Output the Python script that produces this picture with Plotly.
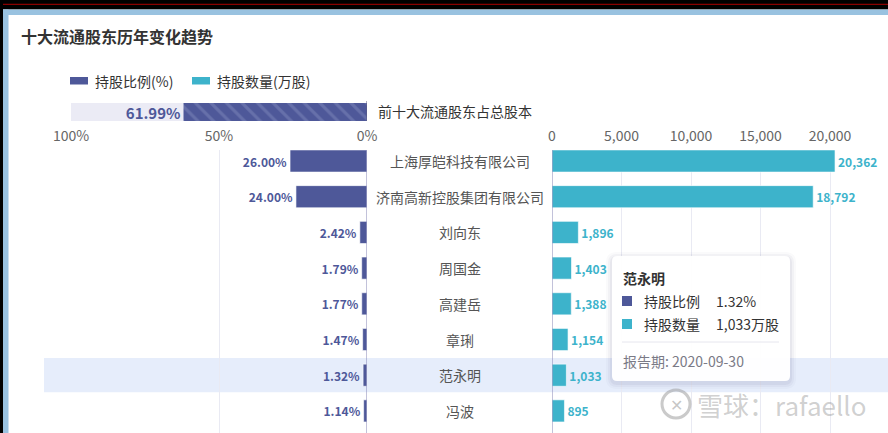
import plotly.graph_objects as go

# ---------------- data ----------------
names = ["上海厚皑科技有限公司", "济南高新控股集团有限公司", "刘向东", "周国金",
         "高建岳", "章琍", "范永明", "冯波"]
ratio = [26.00, 24.00, 2.42, 1.79, 1.77, 1.47, 1.32, 1.14]          # 持股比例 %
shares = [20362, 18792, 1896, 1403, 1388, 1154, 1033, 895]         # 持股数量 万股
top10_total = 61.99
left_ticks = [100, 50, 0]
left_ticktext = ["100%", "50%", "0%"]
right_ticks = [0, 5000, 10000, 15000, 20000]
right_ticktext = ["0", "5,000", "10,000", "15,000", "20,000"]
legend_names = ["持股比例(%)", "持股数量(万股)"]
title_text = "十大流通股东历年变化趋势"
summary_label = "前十大流通股东占总股本"
hover_index = 6
report_date = "2020-09-30"
watermark = "雪球：rafaello"

# ---------------- styling ----------------
W, H = 888, 433
FONT = "Noto Sans CJK SC, Noto Sans, sans-serif"
C_RATIO = "#4e5899"
C_SHARE = "#3db3cb"
C_TEXT = "#333333"
C_TICK = "#666666"
C_GRID = "#e9eaf3"
C_AXIS = "#8585b5"


def px(x):
    return x / W


def py(y):
    return 1 - y / H


idx = list(range(len(names)))
ROW0, ROWH = 161, 35.7
Y_TOP, Y_BOT = 150, 433
y_range = [(Y_BOT - ROW0) / ROWH, (Y_TOP - ROW0) / ROWH]

fig = go.Figure()

# summary background (100%)
fig.add_trace(go.Bar(
    x=[100], y=[0], orientation="h", xaxis="x", yaxis="y2", width=1,
    marker=dict(color="#ebebf5", line=dict(width=0)), hoverinfo="skip",
    showlegend=False))
# summary hatched bar
fig.add_trace(go.Bar(
    x=[top10_total], y=[0], orientation="h", xaxis="x", yaxis="y2", width=1,
    marker=dict(color=C_RATIO, line=dict(width=0),
                pattern=dict(shape="\\", fgcolor="#7e87bb", bgcolor=C_RATIO,
                             size=11, solidity=0.28)),
    text=[f"{top10_total:.2f}%"], textposition="outside", cliponaxis=False,
    constraintext="none",
    textfont=dict(family=FONT, size=15, color=C_RATIO, weight=700),
    showlegend=False))

# left bars (ratio)
fig.add_trace(go.Bar(
    x=ratio, y=idx, orientation="h", xaxis="x", yaxis="y", width=0.62,
    name=legend_names[0],
    marker=dict(color=C_RATIO, line=dict(color="rgba(255,255,255,0.6)", width=1)),
    texttemplate="%{x:.2f}%", textposition="outside", cliponaxis=False,
    constraintext="none",
    textfont=dict(family=FONT, size=12, color=C_RATIO, weight=700),
    showlegend=False))

# right bars (shares)
fig.add_trace(go.Bar(
    x=shares, y=idx, orientation="h", xaxis="x2", yaxis="y", width=0.62,
    name=legend_names[1],
    marker=dict(color=C_SHARE, line=dict(color="rgba(255,255,255,0.6)", width=1)),
    texttemplate="%{x:,}", textposition="outside", cliponaxis=False,
    constraintext="none",
    textfont=dict(family=FONT, size=12, color=C_SHARE, weight=700),
    showlegend=False))

shapes = []
annotations = []

# hover highlight band
shapes.append(dict(type="rect", xref="paper", yref="y", x0=px(44), x1=1,
                   y0=hover_index - 0.48, y1=hover_index + 0.48,
                   fillcolor="#e6edfb", line=dict(width=0), layer="below"))

# axis lines
shapes.append(dict(type="line", xref="x", yref="paper", x0=0, x1=0,
                   y0=0, y1=py(Y_TOP), line=dict(color=C_AXIS, width=1)))
shapes.append(dict(type="line", xref="x2", yref="paper", x0=0, x1=0,
                   y0=0, y1=py(Y_TOP), line=dict(color=C_AXIS, width=1)))
shapes.append(dict(type="line", xref="x", yref="paper", x0=0, x1=0,
                   y0=py(121), y1=py(101), line=dict(color="#5a5a80", width=1)))

# frame
shapes.append(dict(type="rect", xref="paper", yref="paper", x0=0, x1=1,
                   y0=py(9.5), y1=1, fillcolor="#000000", line=dict(width=0)))
shapes.append(dict(type="line", xref="paper", yref="paper", x0=0, x1=1,
                   y0=py(4.3), y1=py(4.3), line=dict(color="#8a0000", width=1.2)))
shapes.append(dict(type="rect", xref="paper", yref="paper", x0=0, x1=1,
                   y0=py(15), y1=py(9.5), fillcolor="#99c2e0", line=dict(width=0)))
shapes.append(dict(type="rect", xref="paper", yref="paper", x0=0, x1=px(3),
                   y0=0, y1=1, fillcolor="#000000", line=dict(width=0)))
shapes.append(dict(type="rect", xref="paper", yref="paper", x0=px(3), x1=px(8.5),
                   y0=0, y1=py(9.5), fillcolor="#99c2e0", line=dict(width=0)))

# title
annotations.append(dict(text=f"<b>{title_text}</b>", xref="paper", yref="paper",
                        x=px(19), y=py(36), xanchor="left", yanchor="middle",
                        showarrow=False, font=dict(family=FONT, size=16, color=C_TEXT)))

# custom legend
for (x0, x1, tx), col, lab in zip([(70, 88, 93), (192, 210, 215)],
                                  [C_RATIO, C_SHARE], legend_names):
    shapes.append(dict(type="rect", xref="paper", yref="paper", x0=px(x0), x1=px(x1),
                       y0=py(84.5), y1=py(77), fillcolor=col, line=dict(width=0)))
    annotations.append(dict(text=lab, xref="paper", yref="paper", x=px(tx), y=py(80.5),
                            xanchor="left", yanchor="middle", showarrow=False,
                            font=dict(family=FONT, size=14, color=C_TEXT)))

# summary label
annotations.append(dict(text=summary_label, xref="paper", yref="paper",
                        x=px(376), y=py(111), xanchor="left", yanchor="middle",
                        showarrow=False, font=dict(family=FONT, size=14, color=C_TEXT)))

# category labels in the centre
for i, n in zip(idx, names):
    annotations.append(dict(text=n, xref="paper", yref="y", x=px(459.5), y=i,
                            xanchor="center", yanchor="middle", showarrow=False,
                            font=dict(family=FONT, size=14, color="#555555")))

# tooltip
TX0, TX1, TY0, TY1, R = 612, 790, 256, 381, 5


def rrect(x0, y0, x1, y1, r):
    return (f"M {px(x0 + r)},{py(y0)} L {px(x1 - r)},{py(y0)} "
            f"Q {px(x1)},{py(y0)} {px(x1)},{py(y0 + r)} "
            f"L {px(x1)},{py(y1 - r)} Q {px(x1)},{py(y1)} {px(x1 - r)},{py(y1)} "
            f"L {px(x0 + r)},{py(y1)} Q {px(x0)},{py(y1)} {px(x0)},{py(y1 - r)} "
            f"L {px(x0)},{py(y0 + r)} Q {px(x0)},{py(y0)} {px(x0 + r)},{py(y0)} Z")


for d, a in [(6, 0.025), (4, 0.035), (2, 0.05)]:
    shapes.append(dict(type="path", xref="paper", yref="paper",
                       path=rrect(TX0 - d, TY0 - d + 2, TX1 + d, TY1 + d + 2, R + d),
                       fillcolor=f"rgba(40,40,90,{a})", line=dict(width=0)))
shapes.append(dict(type="path", xref="paper", yref="paper",
                   path=rrect(TX0, TY0, TX1, TY1, R),
                   fillcolor="rgba(255,255,255,0.97)", line=dict(width=0)))
shapes.append(dict(type="line", xref="paper", yref="paper", x0=px(622), x1=px(779),
                   y0=py(342), y1=py(342), line=dict(color="#e6e6ee", width=1)))
annotations.append(dict(text=f"<b>{names[hover_index]}</b>", xref="paper", yref="paper",
                        x=px(621), y=py(278), xanchor="left", yanchor="middle",
                        showarrow=False, font=dict(family=FONT, size=14, color=C_TEXT)))
tip_rows = [(legend_names[0].split("(")[0], f"{ratio[hover_index]:.2f}%", C_RATIO, 301),
            (legend_names[1].split("(")[0], f"{shares[hover_index]:,}万股", C_SHARE, 324)]
for lab, val, col, yy in tip_rows:
    shapes.append(dict(type="rect", xref="paper", yref="paper", x0=px(622), x1=px(632),
                       y0=py(yy + 5), y1=py(yy - 5), fillcolor=col, line=dict(width=0)))
    annotations.append(dict(text=lab, xref="paper", yref="paper", x=px(642), y=py(yy),
                            xanchor="left", yanchor="middle", showarrow=False,
                            font=dict(family=FONT, size=14, color=C_TEXT)))
    annotations.append(dict(text=val, xref="paper", yref="paper", x=px(714), y=py(yy),
                            xanchor="left", yanchor="middle", showarrow=False,
                            font=dict(family=FONT, size=14, color=C_TEXT)))
annotations.append(dict(text=f"报告期: {report_date}", xref="paper", yref="paper",
                        x=px(621), y=py(361), xanchor="left", yanchor="middle",
                        showarrow=False, font=dict(family=FONT, size=14, color="#7a7a86")))

# watermark
shapes.append(dict(type="circle", xref="paper", yref="paper", x0=px(662), x1=px(690),
                   y0=py(418), y1=py(390), line=dict(color="rgba(150,150,150,0.5)", width=3)))
annotations.append(dict(text="✕", xref="paper", yref="paper", x=px(676), y=py(404),
                        xanchor="center", yanchor="middle", showarrow=False,
                        font=dict(family=FONT, size=16, color="rgba(150,150,150,0.55)")))
annotations.append(dict(text=watermark, xref="paper", yref="paper", x=px(695), y=py(404),
                        xanchor="left", yanchor="middle", showarrow=False,
                        font=dict(family=FONT, size=26, color="rgba(150,150,150,0.45)")))

fig.update_layout(
    width=W, height=H, margin=dict(l=0, r=0, t=0, b=0, pad=0), autosize=False,
    paper_bgcolor="white", plot_bgcolor="rgba(0,0,0,0)",
    barmode="overlay", showlegend=False,
    font=dict(family=FONT, size=14, color=C_TEXT),
    xaxis=dict(domain=[px(71), px(367)], range=[100, 0], anchor="y", side="top",
               tickvals=left_ticks, ticktext=left_ticktext, showgrid=True,
               gridcolor=C_GRID, gridwidth=1, zeroline=False, showline=False,
               ticks="", ticklabelstandoff=5, automargin=False,
               tickfont=dict(family=FONT, size=14, color=C_TICK),
               fixedrange=True),
    xaxis2=dict(domain=[px(552), 1], range=[0, 336 / 278 * 20000], anchor="y",
                side="top", tickvals=right_ticks, ticktext=right_ticktext,
                showgrid=True, gridcolor=C_GRID, gridwidth=1, zeroline=False,
                showline=False, ticks="", ticklabelstandoff=5, automargin=False,
                tickfont=dict(family=FONT, size=14, color=C_TICK), fixedrange=True),
    yaxis=dict(domain=[0, py(Y_TOP)], range=y_range, showticklabels=False,
               showgrid=False, zeroline=False, showline=False, fixedrange=True,
               automargin=False),
    yaxis2=dict(domain=[py(121), py(103)], range=[-0.5, 0.5], anchor="x",
                showticklabels=False, showgrid=False, zeroline=False,
                showline=False, fixedrange=True, automargin=False),
    shapes=shapes, annotations=annotations,
)

fig.write_html(
    "out.html",
    config={"responsive": False, "displayModeBar": False},
    post_script=("document.body.style.margin='0';"
                 "document.body.style.overflow='hidden';"
                 "document.documentElement.style.overflow='hidden';"),
)
